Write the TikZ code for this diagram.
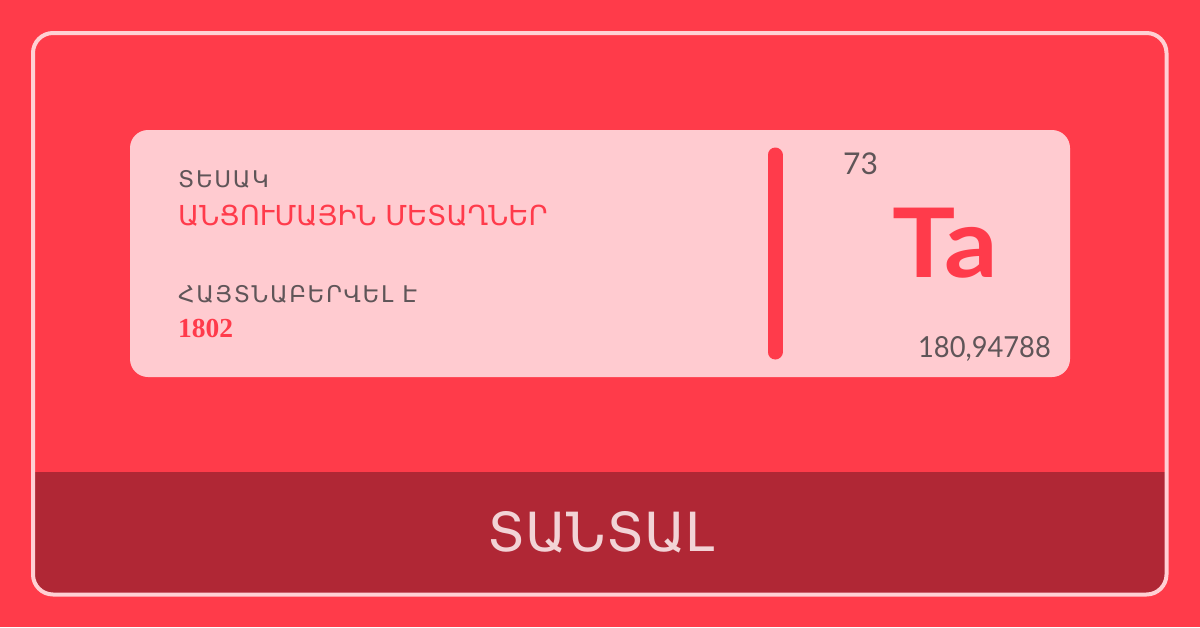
\documentclass[tikz,border=0pt]{standalone}
\usepackage{fontspec}
\setmainfont{DejaVu Sans}
\newfontfamily\armfont{DejaVu Sans}
\newfontfamily\armspaced[LetterSpace=7]{DejaVu Sans}
\newfontfamily\numfont{Lato}
\newfontfamily\serfont{Liberation Serif}
\definecolor{bgred}{HTML}{FF3B4A}
\definecolor{cardpink}{HTML}{FFCBD0}
\definecolor{bandred}{HTML}{B02735}
\definecolor{borderpink}{HTML}{FFD0D4}
\definecolor{greytxt}{HTML}{5F5558}
\definecolor{redtxt}{HTML}{FF3B4B}
\definecolor{bandtxt}{HTML}{F2D3D6}
\tikzset{
  lbl/.style={anchor=base west, inner sep=0pt, text=greytxt, font=\armspaced\fontsize{23}{23}\selectfont},
  val/.style={anchor=base west, inner sep=0pt, text=redtxt, font=\armfont\fontsize{27.5}{27.5}\selectfont},
}
\begin{document}
\begin{tikzpicture}[x=1pt,y=-1pt]
\fill[bgred] (0,0) rectangle (1200,627);
\useasboundingbox (0,0) rectangle (1200,627);
% band
\begin{scope}
\clip[rounded corners=20] (33,33) rectangle (1166.5,594.5);
\fill[bandred] (0,472) rectangle (1200,627);
\end{scope}
\draw[borderpink, line width=4, rounded corners=20] (33,33) rectangle (1166.5,594.5);
% card
\fill[cardpink, rounded corners=18] (130,130) rectangle (1070,377);
\draw[redtxt, line width=15, line cap=round] (775,155) -- (775,352);
\node[lbl] (t1) at (178,187.5) {ՏԵՍԱԿ};
\node[val] (v1) at (178,225) {ԱՆՑՈՒՄԱՅԻՆ ՄԵՏԱՂՆԵՐ};
\node[lbl] (t2) at (178,302) {ՀԱՅՏՆԱԲԵՐՎԵԼ Է};
\node[anchor=base west, inner sep=0pt, text=redtxt, font=\serfont\bfseries\fontsize{27.5}{27.5}\selectfont] (v2) at (178,337) {1802};
\node[anchor=base west, inner sep=0pt, text=greytxt, font=\numfont\fontsize{30}{30}\selectfont] (num) at (843,174) {73};
\node[anchor=base, inner sep=0pt, text=redtxt, xscale=1.1, font=\numfont\bfseries\fontsize{96}{96}\selectfont] (sym) at (945,277) {Ta};
\node[anchor=base east, inner sep=0pt, text=greytxt, font=\numfont\fontsize{29}{29}\selectfont, xscale=0.94] (mass) at (1051,357) {180,94788};
\node[anchor=base, inner sep=0pt, text=bandtxt, font=\armfont\fontsize{54}{54}\selectfont] (name) at (601,551) {ՏԱՆՏԱԼ};
\end{tikzpicture}
\end{document}
